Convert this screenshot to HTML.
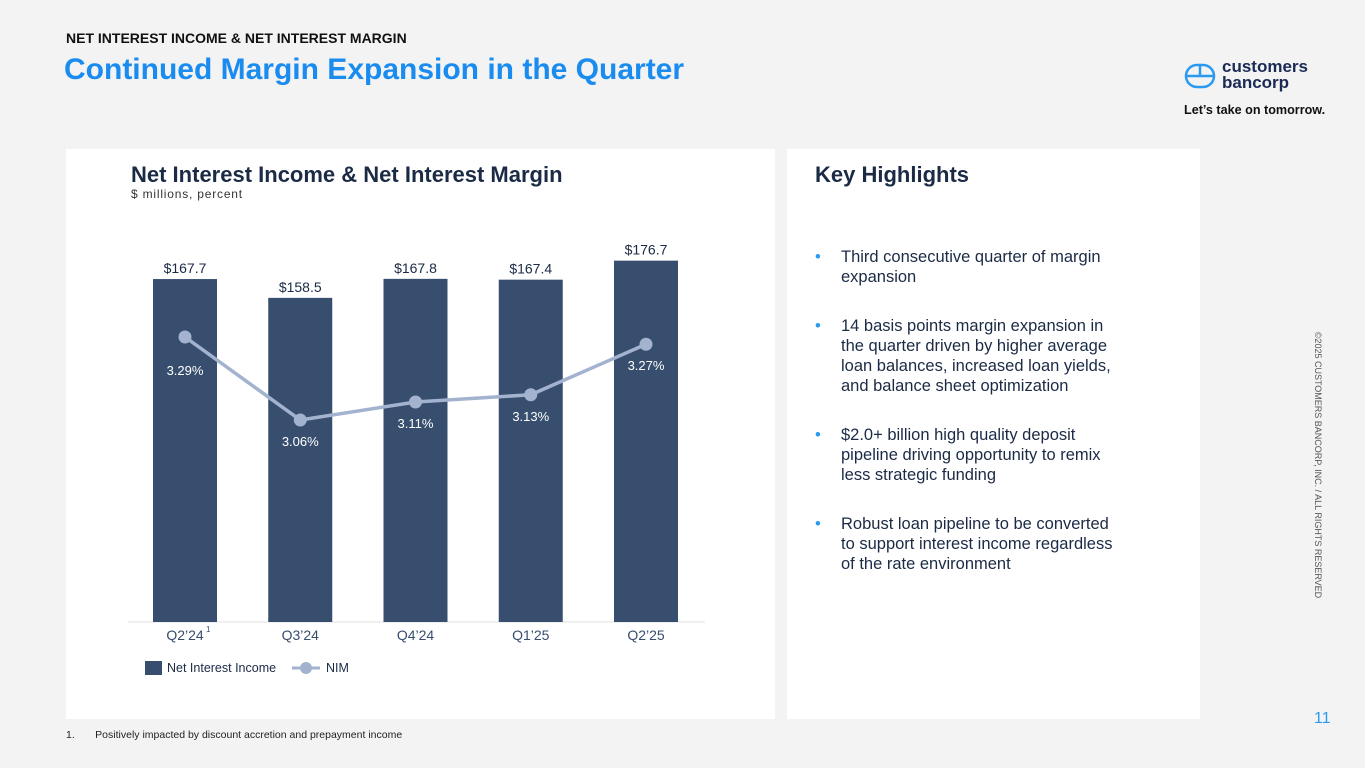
<!DOCTYPE html>
<html><head><meta charset="utf-8"><style>
body{margin:0;width:1365px;height:768px;background:#f3f3f3;font-family:"Liberation Sans",sans-serif;position:relative;overflow:hidden}
.abs{position:absolute}
.panel{position:absolute;background:#fff}
li{margin-bottom:29px;white-space:nowrap}
</style></head><body>
<div class="abs" style="left:66px;top:30px;font-size:14px;font-weight:bold;color:#111">NET INTEREST INCOME &amp; NET INTEREST MARGIN</div>
<div class="abs" style="left:64px;top:53px;font-size:30px;font-weight:bold;color:#1a8cf0">Continued Margin Expansion in the Quarter</div>
<div class="abs" style="left:1184px;top:62px">
<svg width="32" height="28"><rect x="2" y="3" width="28" height="22" rx="11" fill="none" stroke="#2a9af0" stroke-width="2.5"/><line x1="2" y1="14" x2="30" y2="14" stroke="#2a9af0" stroke-width="2.5"/><line x1="16" y1="3" x2="16" y2="14" stroke="#2a9af0" stroke-width="2.5"/></svg>
<div class="abs" style="left:38px;top:-3px;font-size:17px;font-weight:bold;color:#1b2a55;line-height:16px">customers<br>bancorp</div>
</div>
<div class="abs" style="left:1184px;top:103px;font-size:12.6px;font-weight:bold;color:#111">Let’s take on tomorrow.</div>

<div class="panel" style="left:66px;top:149px;width:709px;height:570px"></div>
<div class="panel" style="left:787px;top:149px;width:413px;height:570px"></div>
<div class="abs" style="left:131px;top:162px;font-size:22px;font-weight:bold;color:#1b2a45">Net Interest Income &amp; Net Interest Margin</div>
<div class="abs" style="left:131px;top:187px;font-size:12px;color:#333;letter-spacing:0.8px">$ millions, percent</div>

<svg id="chart" class="abs" style="left:0;top:0" width="1365" height="768"></svg>

<div class="abs" style="left:815px;top:162px;font-size:22px;font-weight:bold;color:#1b2a45">Key Highlights</div>
<ul class="abs" style="left:795px;top:247px;width:330px;margin:0;padding-left:46px;font-size:16.5px;line-height:20px;color:#1b2a45;list-style:none">
<li style="position:relative"><span style="position:absolute;left:-26px;color:#2a9af0">•</span>Third consecutive quarter of margin<br>expansion</li>
<li style="position:relative"><span style="position:absolute;left:-26px;color:#2a9af0">•</span>14 basis points margin expansion in<br>the quarter driven by higher average<br>loan balances, increased loan yields,<br>and balance sheet optimization</li>
<li style="position:relative"><span style="position:absolute;left:-26px;color:#2a9af0">•</span>$2.0+ billion high quality deposit<br>pipeline driving opportunity to remix<br>less strategic funding</li>
<li style="position:relative"><span style="position:absolute;left:-26px;color:#2a9af0">•</span>Robust loan pipeline to be converted<br>to support interest income regardless<br>of the rate environment</li>
</ul>
<div class="abs" style="left:66px;top:729px;font-size:10.5px;color:#222">1.&nbsp;&nbsp;&nbsp;&nbsp;&nbsp;&nbsp;&nbsp;Positively impacted by discount accretion and prepayment income</div>
<div class="abs" style="left:1314px;top:710px;font-size:16px;color:#2a9af0">11</div>
<div class="abs" style="left:1318px;top:465px;font-size:9px;color:#555;transform:translate(-50%,-50%) rotate(90deg);white-space:nowrap">©2025 CUSTOMERS BANCORP, INC. / ALL RIGHTS RESERVED</div>

<script>
const categories=["Q2’24","Q3’24","Q4’24","Q1’25","Q2’25"];
const niiValues=[167.7,158.5,167.8,167.4,176.7];
const nimValues=[3.29,3.06,3.11,3.13,3.27];
const niiLabels=["$167.7","$158.5","$167.8","$167.4","$176.7"];
const nimLabels=["3.29%","3.06%","3.11%","3.13%","3.27%"];
const svg=document.getElementById('chart');
const NS='http://www.w3.org/2000/svg';
const xC=i=>185+i*115.25;
const yBar=v=>622-v*2.045;
const yNim=v=>337+(3.29-v)*361;
function mk(t,a){const e=document.createElementNS(NS,t);for(const k in a)e.setAttribute(k,a[k]);svg.appendChild(e);return e;}
const ax=mk('line',{x1:128,x2:705,y1:622,y2:622,stroke:'#e2e2e2'});


niiValues.forEach((v,i)=>{
 const r=mk('rect',{x:xC(i)-32,y:yBar(v),width:64,height:622-yBar(v),fill:'#374e6e'});
 
 
 const t=mk('text',{x:xC(i),y:yBar(v)-6,'text-anchor':'middle','font-size':14,fill:'#1b2a45'});
 t.textContent=niiLabels[i];
 
 
 const c=mk('text',{x:xC(i),y:640,'text-anchor':'middle','font-size':14,fill:'#374e6e'});
 c.textContent=categories[i];
 
 
});
const ln=mk('polyline',{points:nimValues.map((v,i)=>xC(i)+','+yNim(v)).join(' '),fill:'none',stroke:'#a3b3cf','stroke-width':3.5});


nimValues.forEach((v,i)=>{
 const p=mk('circle',{cx:xC(i),cy:yNim(v),r:6.5,fill:'#a3b3cf'});
 
 
 const t=mk('text',{x:xC(i),y:yNim(v)+(i===0?38:26),'text-anchor':'middle','font-size':13,fill:'#fff'});
 t.textContent=nimLabels[i];
 
 
});
const sup=mk('text',{x:206,y:632,'font-size':8,fill:'#374e6e'});sup.textContent='1';


const lg1=mk('rect',{x:145,y:661,width:17,height:14,fill:'#374e6e'});


const lt1=mk('text',{x:167,y:672,'font-size':12.5,fill:'#1b2a45'});lt1.textContent='Net Interest Income';


const lg2=mk('line',{x1:292,x2:320,y1:668,y2:668,stroke:'#a3b3cf','stroke-width':3});


const lg3=mk('circle',{cx:306,cy:668,r:6,fill:'#a3b3cf'});


const lt2=mk('text',{x:326,y:672,'font-size':12.5,fill:'#1b2a45'});lt2.textContent='NIM';


</script>
</body></html>
